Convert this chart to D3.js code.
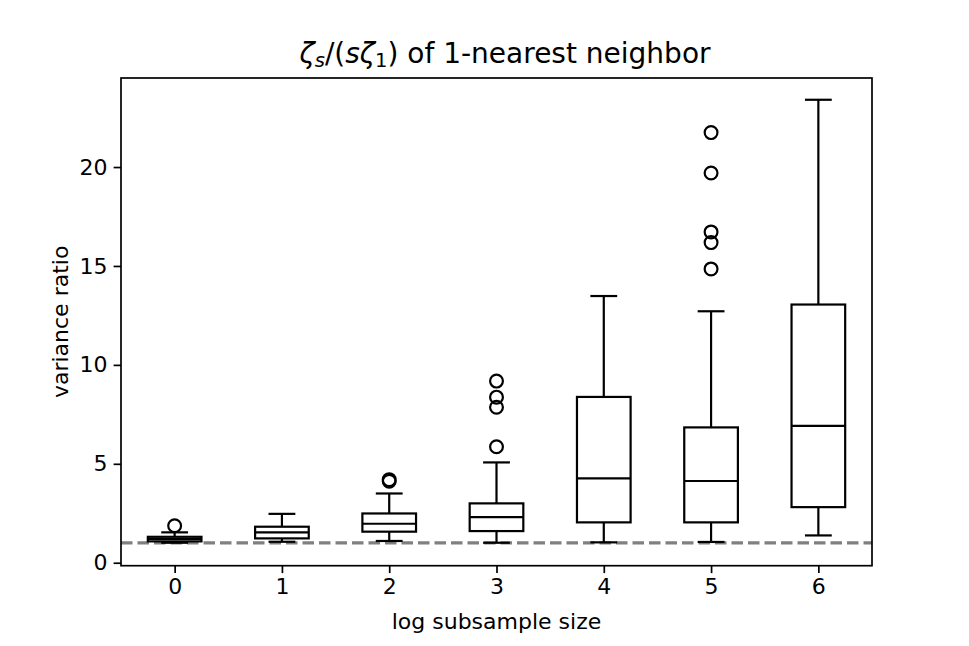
<!DOCTYPE html>
<html>
<head>
<meta charset="utf-8">
<script src="https://cdn.jsdelivr.net/npm/d3@7"></script>
<style>
  html, body { margin: 0; padding: 0; background: #fff; }
  text { font-family: "DejaVu Sans", sans-serif; fill: #000; }
</style>
</head>
<body>
<svg id="chart" width="969" height="646"></svg>
<script>
// ---- data ----
const categories = ["0", "1", "2", "3", "4", "5", "6"];
const whiskerLow  = [1.01, 1.06, 1.10, 1.01, 1.03, 1.05, 1.38];
const q1          = [1.08, 1.23, 1.57, 1.60, 2.04, 2.04, 2.81];
const medians     = [1.20, 1.535, 1.97, 2.31, 4.26, 4.13, 6.92];
const q3          = [1.31, 1.82, 2.49, 3.00, 8.38, 6.84, 13.05];
const whiskerHigh = [1.535, 2.47, 3.50, 5.07, 13.48, 12.71, 23.40];
const outliers    = [[1.87], [], [4.12, 4.20], [5.86, 7.86, 8.37, 9.18], [], [14.85, 16.18, 16.72, 19.70, 21.74], []];
const yTicks = [0, 5, 10, 15, 20];
const refLine = 1;

(function () {
const svg = d3.select("#chart");
const mL = 121, mR = 872, mT = 78, mB = 565.7;
const fs = 22;

const x = d3.scaleLinear().domain([-0.5, 6.5]).range([mL, mR]);
const y = d3.scaleLinear().domain([-0.15, 24.5]).range([mB, mT]);

svg.append("rect").attr("width", 969).attr("height", 646).attr("fill", "#fff");

// reference dashed line
svg.append("line")
  .attr("x1", x(-0.5)).attr("x2", x(6.5))
  .attr("y1", y(refLine)).attr("y2", y(refLine))
  .attr("stroke", "#808080").attr("stroke-width", 3.2)
  .attr("stroke-dasharray", "11.5,5");

const boxW = 0.5, capW = 0.25;
const g = svg.append("g").attr("fill", "none").attr("stroke", "#000").attr("stroke-width", 2.2);

categories.forEach((c, i) => {
  const cx = x(i);
  const half = (x(boxW / 2) - x(0));
  const capHalf = (x(capW / 2) - x(0));
  g.append("line").attr("x1", cx).attr("x2", cx).attr("y1", y(q3[i])).attr("y2", y(whiskerHigh[i]));
  g.append("line").attr("x1", cx).attr("x2", cx).attr("y1", y(q1[i])).attr("y2", y(whiskerLow[i]));
  g.append("line").attr("x1", cx - capHalf).attr("x2", cx + capHalf).attr("y1", y(whiskerHigh[i])).attr("y2", y(whiskerHigh[i]));
  g.append("line").attr("x1", cx - capHalf).attr("x2", cx + capHalf).attr("y1", y(whiskerLow[i])).attr("y2", y(whiskerLow[i]));
  g.append("rect").attr("x", cx - half).attr("width", 2 * half)
    .attr("y", y(q3[i])).attr("height", y(q1[i]) - y(q3[i]));
  g.append("line").attr("x1", cx - half).attr("x2", cx + half).attr("y1", y(medians[i])).attr("y2", y(medians[i]));
  outliers[i].forEach(v => {
    g.append("circle").attr("cx", cx).attr("cy", y(v)).attr("r", 6.4);
  });
});

// axes frame
svg.append("rect").attr("x", mL).attr("y", mT).attr("width", mR - mL).attr("height", mB - mT)
  .attr("fill", "none").attr("stroke", "#000").attr("stroke-width", 1.7);

// x axis
const xAxis = d3.axisBottom(x).tickValues(d3.range(categories.length))
  .tickFormat(i => categories[i]).tickSize(7.4).tickPadding(5);
const gx = svg.append("g").attr("transform", `translate(0,${mB})`).call(xAxis);
gx.select(".domain").remove();
gx.selectAll(".tick line").attr("stroke", "#000").attr("stroke-width", 1.7);
gx.selectAll(".tick text").attr("font-size", fs).attr("font-family", "DejaVu Sans").attr("fill", "#000");

// y axis
const yAxis = d3.axisLeft(y).tickValues(yTicks).tickSize(7.4).tickPadding(6);
const gy = svg.append("g").attr("transform", `translate(${mL},0)`).call(yAxis);
gy.select(".domain").remove();
gy.selectAll(".tick line").attr("stroke", "#000").attr("stroke-width", 1.7);
gy.selectAll(".tick text").attr("font-size", fs).attr("font-family", "DejaVu Sans").attr("fill", "#000");

// labels
svg.append("text").attr("x", (mL + mR) / 2).attr("y", 629)
  .attr("text-anchor", "middle").attr("font-size", fs).text("log subsample size");
svg.append("text").attr("transform", `translate(68,${(mT + mB) / 2}) rotate(-90)`)
  .attr("text-anchor", "middle").attr("font-size", fs).text("variance ratio");

// title with math
const t = svg.append("text").attr("x", 505).attr("y", 63)
  .attr("text-anchor", "middle").attr("font-size", 28);
t.append("tspan").attr("font-style", "italic").text("ζ");
t.append("tspan").attr("font-style", "italic").attr("font-size", 19.5).attr("dy", 4).text("s");
t.append("tspan").attr("dy", -4).text("/(");
t.append("tspan").attr("font-style", "italic").text("sζ");
t.append("tspan").attr("font-size", 19.5).attr("dy", 4).text("1");
t.append("tspan").attr("dy", -4).text(") of 1-nearest neighbor");
})();
</script>
</body>
</html>
